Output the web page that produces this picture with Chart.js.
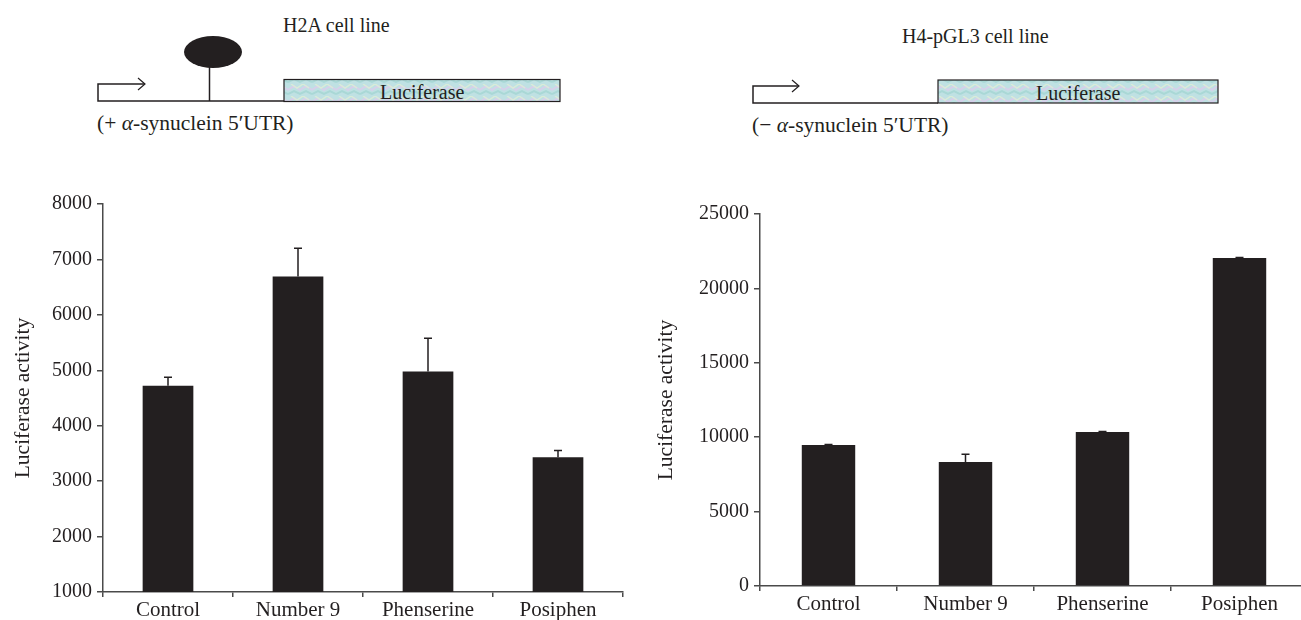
<!DOCTYPE html>
<html>
<head>
<meta charset="utf-8">
<script src="https://cdn.jsdelivr.net/npm/chart.js@4.4.1/dist/chart.umd.min.js"></script>
<style>
  html, body { margin: 0; padding: 0; background: #fff; overflow: hidden; }
  body { width: 1301px; height: 620px; position: relative; font-family: "Liberation Serif", serif; }
  .txt { position: absolute; font-size: 20px; color: #231f20; white-space: nowrap; line-height: 1; }
  .sub { font-size: 21.5px; }
  #diagram { position: absolute; left: 0; top: 0; }
  #chartA { position: absolute; left: 0; top: 180px; }
  #chartB { position: absolute; left: 640px; top: 180px; }
</style>
</head>
<body>
<svg id="diagram" width="1301" height="150" xmlns="http://www.w3.org/2000/svg">
  <defs>
    <pattern id="luc" width="24" height="12" patternUnits="userSpaceOnUse">
      <rect width="24" height="12" fill="#bfe1e3"/>
      <path d="M0 6 L6 2 L12 6 L18 2 L24 6" stroke="#d6d0ea" stroke-width="2" fill="none"/>
      <path d="M0 10 L6 7 L12 10 L18 7 L24 10" stroke="#a9d8d6" stroke-width="2" fill="none"/>
      <path d="M3 0 L9 4 L15 0 L21 4" stroke="#d9ecd8" stroke-width="1.5" fill="none"/>
    </pattern>
  </defs>
  <!-- construto esquerdo -->
  <polyline points="145,84 98,84 98,101 284,101" fill="none" stroke="#231f20" stroke-width="1.5"/>
  <polyline points="138,78 145,84 138,90" fill="none" stroke="#231f20" stroke-width="1.2"/>
  <line x1="209.5" y1="66" x2="209.5" y2="101" stroke="#231f20" stroke-width="1.5"/>
  <ellipse cx="213" cy="52" rx="29" ry="16" fill="#231f20"/>
  <rect x="284" y="79.5" width="276" height="22" fill="url(#luc)" stroke="#231f20" stroke-width="1.2"/>
  <!-- construto direito -->
  <polyline points="799,86 753,86 753,103 938,103" fill="none" stroke="#231f20" stroke-width="1.5"/>
  <polyline points="792,80 799,86 792,92" fill="none" stroke="#231f20" stroke-width="1.2"/>
  <rect x="938" y="80" width="280" height="23" fill="url(#luc)" stroke="#231f20" stroke-width="1.2"/>
</svg>

<div class="txt" style="left:283px; top:15px;">H2A cell line</div>
<div class="txt" style="left:380px; top:82px;">Luciferase</div>
<div class="txt sub" style="left:97px; top:113px;">(+ <i>α</i>-synuclein 5′UTR)</div>

<div class="txt" style="left:902px; top:26px;">H4-pGL3 cell line</div>
<div class="txt" style="left:1036px; top:83px;">Luciferase</div>
<div class="txt sub" style="left:752px; top:115px;">(− <i>α</i>-synuclein 5′UTR)</div>

<canvas id="chartA" width="650" height="440"></canvas>
<canvas id="chartB" width="680" height="440"></canvas>

<script>
// dados
const categorias = ['Control', 'Number 9', 'Phenserine', 'Posiphen'];

const valoresH2A = [4720, 6690, 4980, 3430];
const errosH2A = [155, 510, 600, 125];
const ticksH2A = [1000, 2000, 3000, 4000, 5000, 6000, 7000, 8000];

const valoresH4 = [9470, 8330, 10350, 22040];
const errosH4 = [40, 520, 40, 40];
const ticksH4 = [0, 5000, 10000, 15000, 20000, 25000];

const corBarra = '#231f20';
const corEixo = '#4a4a4a';
const fonteNum = { family: '"Liberation Serif", serif', size: 20 };
const fonteCat = { family: '"Liberation Serif", serif', size: 21 };
const fonteTit = { family: '"Liberation Serif", serif', size: 21.5 };

// barras de erro (só para cima)
const errorBars = {
    id: 'errorBars',
    afterDatasetsDraw(chart, args, opts) {
        const ctx = chart.ctx;
        const meta = chart.getDatasetMeta(0);
        const yScale = chart.scales.y;
        ctx.save();
        ctx.strokeStyle = corBarra;
        ctx.lineWidth = 1.5;
        meta.data.forEach((bar, i) => {
            const v = chart.data.datasets[0].data[i];
            const e = opts.erros[i];
            const yTop = yScale.getPixelForValue(v + e);
            ctx.beginPath();
            ctx.moveTo(bar.x, bar.y);
            ctx.lineTo(bar.x, yTop);
            ctx.moveTo(bar.x - 4, yTop);
            ctx.lineTo(bar.x + 4, yTop);
            ctx.stroke();
        });
        ctx.restore();
    }
};

function criarGrafico(id, valores, erros, ticks, cfg) {
    return new Chart(document.getElementById(id), {
        type: 'bar',
        data: {
            labels: categorias,
            datasets: [{
                data: valores,
                backgroundColor: corBarra,
                borderWidth: 0,
                barPercentage: 0.78,
                categoryPercentage: 0.5
            }]
        },
        options: {
            responsive: false,
            animation: false,
            layout: { padding: { top: cfg.top, right: cfg.right, left: 0, bottom: 0 } },
            plugins: {
                legend: { display: false },
                tooltip: { enabled: false },
                errorBars: { erros: erros }
            },
            scales: {
                x: {
                    grid: { display: true, drawOnChartArea: false, drawTicks: true, tickLength: 5, offset: true, color: corEixo, lineWidth: 1.5 },
                    border: { display: true, color: corEixo, width: 1.5 },
                    ticks: { color: corBarra, font: fonteCat, padding: 1, maxRotation: 0 },
                    afterFit: s => { s.height = cfg.xh; }
                },
                y: {
                    min: ticks[0],
                    max: ticks[ticks.length - 1],
                    afterBuildTicks: s => { s.ticks = ticks.map(v => ({ value: v })); },
                    grid: { display: true, drawOnChartArea: false, drawTicks: true, tickLength: 6, color: corEixo, lineWidth: 1.5 },
                    border: { display: true, color: corEixo, width: 1.5 },
                    ticks: { color: corBarra, font: fonteNum, padding: 5, callback: v => String(v) },
                    title: { display: true, text: 'Luciferase activity', color: corBarra, font: fonteTit, padding: { top: cfg.tp, bottom: 0 } },
                    afterFit: s => { s.width = cfg.yw; }
                }
            }
        },
        plugins: [errorBars]
    });
}

document.addEventListener('DOMContentLoaded', () => {
    criarGrafico('chartA', valoresH2A, errosH2A, ticksH2A, { top: 24, right: 27, xh: 28, yw: 103, tp: 10 });
    criarGrafico('chartB', valoresH4, errosH4, ticksH4, { top: 34, right: 12, xh: 34, yw: 120, tp: 13 });
});
</script>
</body>
</html>
